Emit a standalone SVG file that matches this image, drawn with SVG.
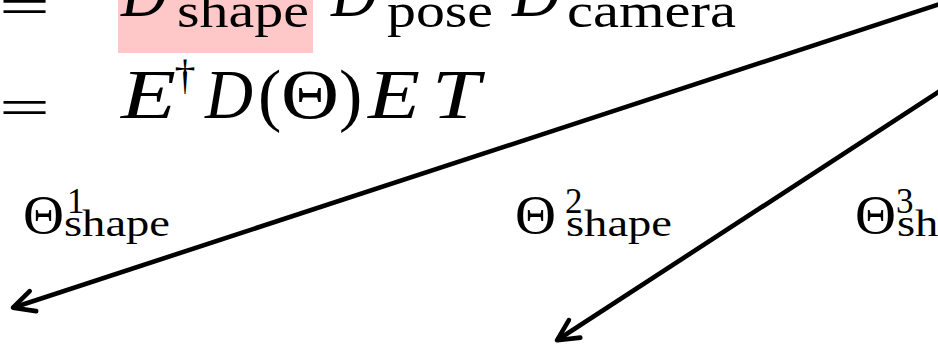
<svg xmlns="http://www.w3.org/2000/svg" width="938" height="347" viewBox="0 0 938 347">
<style>
  text { font-family: "Liberation Serif", "DejaVu Serif", serif; fill: #000; }
  .it { font-style: italic; }
  .main { font-size: 70px; }
  .eq { font-size: 53px; }
  .sub { font-size: 49px; }
  .lab { font-size: 54px; }
  .lsub { font-size: 38px; }
  .lsup { font-size: 35px; }
  .conn { fill: none; stroke: #000; stroke-width: 4.6; marker-end: url(#arrow); }
</style>
<defs>
  <marker id="arrow" markerUnits="userSpaceOnUse" viewBox="-30 -20 40 40" markerWidth="40" markerHeight="40" refX="0" refY="0" orient="auto">
    <path d="M-21,-10.5 L0,0 L-21,10.5" fill="none" stroke="#000" stroke-width="4.6" stroke-linecap="round" stroke-linejoin="round"/>
  </marker>
</defs>
<rect width="938" height="347" fill="#fff"/>

<g id="eq-line1">
  <text class="eq" x="-1" y="23.5" textLength="51" lengthAdjust="spacingAndGlyphs">=</text>
  <rect id="highlight" x="118" y="0" width="195" height="53" fill="#ffc8c8"/>
  <text class="main it" x="121" y="16" textLength="46" lengthAdjust="spacingAndGlyphs">D</text>
  <text class="sub" x="177" y="27" textLength="132" lengthAdjust="spacingAndGlyphs">shape</text>
  <text class="main it" x="331" y="16" textLength="46" lengthAdjust="spacingAndGlyphs">D</text>
  <text class="sub" x="387" y="27" textLength="106" lengthAdjust="spacingAndGlyphs">pose</text>
  <text class="main it" x="512" y="16" textLength="48" lengthAdjust="spacingAndGlyphs">D</text>
  <text class="sub" x="567" y="27" textLength="169" lengthAdjust="spacingAndGlyphs">camera</text>
</g>

<g id="eq-line2">
  <text class="eq" x="-1" y="125" textLength="51" lengthAdjust="spacingAndGlyphs">=</text>
  <text class="main it" x="121" y="118" textLength="55" lengthAdjust="spacingAndGlyphs">E</text>
  <text x="185" y="89" font-size="42" text-anchor="middle">†</text>
  <text class="main it" x="205" y="118" textLength="48" lengthAdjust="spacingAndGlyphs">D</text>
  <text class="main" x="258" y="118">(</text>
  <text class="main" x="281" y="118" textLength="58" lengthAdjust="spacingAndGlyphs">Θ</text>
  <text class="main" x="339" y="118">)</text>
  <text class="main it" x="368" y="118" textLength="52" lengthAdjust="spacingAndGlyphs">E</text>
  <text class="main it" x="432" y="118" textLength="48" lengthAdjust="spacingAndGlyphs">T</text>
</g>

<g id="label-theta1">
  <text class="lab" x="23" y="233" textLength="41" lengthAdjust="spacingAndGlyphs">Θ</text>
  <text class="lsup" x="67" y="213">1</text>
  <text class="lsub" x="64" y="236" textLength="106" lengthAdjust="spacingAndGlyphs">shape</text>
</g>

<g id="label-theta2">
  <text class="lab" x="515" y="233" textLength="41" lengthAdjust="spacingAndGlyphs">Θ</text>
  <text class="lsup" x="565" y="213">2</text>
  <text class="lsub" x="566" y="236" textLength="106" lengthAdjust="spacingAndGlyphs">shape</text>
</g>

<g id="label-theta3">
  <text class="lab" x="855" y="233" textLength="41" lengthAdjust="spacingAndGlyphs">Θ</text>
  <text class="lsup" x="896" y="213">3</text>
  <text class="lsub" x="897" y="236" textLength="106" lengthAdjust="spacingAndGlyphs">shape</text>
</g>

<g id="connectors">
  <path class="conn" d="M945,2.4 L13,307.7"/>
  <path class="conn" d="M945,87.8 L557,340.3"/>
</g>
</svg>
